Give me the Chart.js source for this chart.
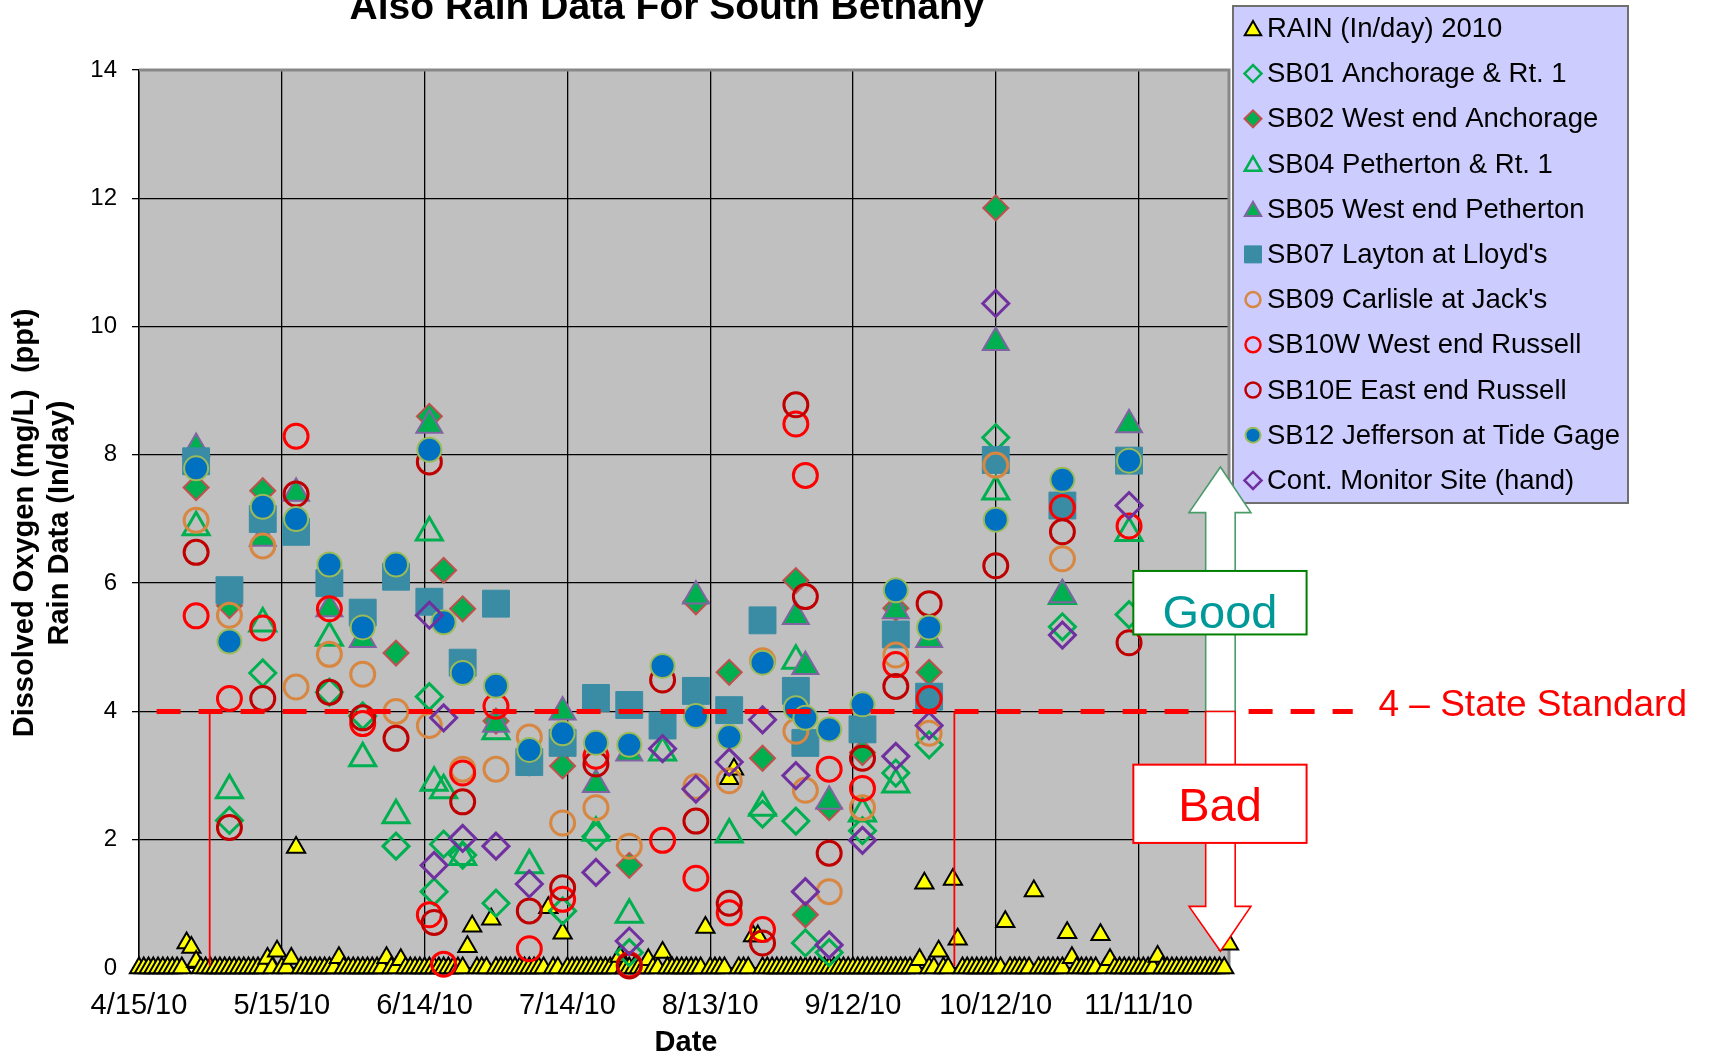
<!DOCTYPE html>
<html>
<head>
<meta charset="utf-8">
<title>Dissolved Oxygen and Rain - South Bethany 2010</title>
<script src="https://cdn.jsdelivr.net/npm/chart.js@4.4.1/dist/chart.umd.min.js"></script>
<style>
  html, body { margin: 0; padding: 0; background: #ffffff; }
  #wrap { width: 1710px; height: 1055px; }
</style>
</head>
<body>
<div id="wrap"><canvas id="do-chart" width="1710" height="1055"></canvas></div>
<script>
// x values are days counted from 4/15/10 (day 0)
const xTickDays = [0, 30, 60, 90, 120, 150, 180, 210];
const xTickLabels = ['4/15/10', '5/15/10', '6/14/10', '7/14/10', '8/13/10', '9/12/10', '10/12/10', '11/11/10'];
const yTickStep = 2;

// daily rain (in/day), day 0 .. 229
const rainDaily = [
  0, 0, 0, 0, 0, 0, 0, 0, 0, 0,
  0.39, 0.32, 0.10, 0, 0, 0, 0, 0, 0, 0,
  0, 0, 0, 0, 0, 0, 0, 0.15, 0, 0.26,
  0, 0, 0.15, 1.88, 0, 0, 0, 0, 0, 0,
  0, 0, 0.16, 0, 0, 0, 0, 0, 0, 0,
  0, 0, 0.16, 0, 0, 0.13, 0, 0, 0, 0,
  0, 0, 0, 0, 0, 0, 0, 0, 0, 0.33,
  0.65, 0, 0, 0, 0.76, 0, 0, 0, 0, 0,
  0, 0, 0, 0, 0, 0, 0.94, 0, 0, 0.54,
  0, 0, 0, 0, 0, 0, 0, 0, 0, 0,
  0, 0.18, 0, 0, 0, 0, 0, 0.13, 0, 0,
  0.24, 0, 0, 0, 0, 0, 0, 0, 0, 0.63,
  0, 0, 0, 0, 2.95, 3.1, 0, 0, 0, 0.5,
  0.5, 0, 0, 0, 0, 0, 0, 0, 0, 0,
  0, 0, 0, 0, 0, 0, 0, 0, 0, 0,
  0, 0, 0, 0, 0, 0, 0, 0, 0, 0,
  0, 0, 0, 0, 0.13, 1.32, 0, 0, 0.26, 0,
  0, 1.38, 0.45, 0, 0, 0, 0, 0, 0, 0,
  0, 0, 0.72, 0, 0, 0, 0, 0, 1.2, 0,
  0, 0, 0, 0, 0, 0.55, 0.16, 0, 0, 0,
  0, 0, 0.52, 0, 0.13, 0, 0, 0, 0, 0,
  0, 0, 0, 0, 0.18, 0, 0, 0, 0, 0,
  0, 0, 0, 0, 0, 0, 0, 0, 0, 0.37
];

// dissolved oxygen (mg/L) as [day, value]
const sb01 = [[19, 2.3], [26, 4.6], [40, 4.3], [47, 3.93], [54, 1.9], [61, 4.23], [62, 1.19], [64, 1.93],
  [68, 1.76], [75, 1.01], [89, 0.89], [96, 2.05], [103, 0.24], [131, 2.4], [138, 2.29], [140, 0.39],
  [145, 0.24], [152, 2.14], [159, 3.04], [166, 3.48], [180, 8.27], [194, 5.32], [208, 5.51]];
const sb02 = [[12, 7.49], [19, 5.65], [26, 7.44], [54, 4.91], [61, 8.6], [64, 6.2], [68, 5.6], [75, 3.85],
  [82, 3.2], [89, 3.15], [103, 1.6], [117, 5.71], [124, 4.61], [131, 3.27], [138, 6.04], [140, 0.83],
  [145, 2.5], [152, 3.36], [159, 5.61], [166, 4.61], [180, 11.85]];
const sb04 = [[12, 6.87], [19, 2.77], [26, 5.37], [40, 5.15], [47, 3.27], [54, 2.38], [61, 6.79], [62, 2.89],
  [64, 2.77], [68, 1.73], [75, 3.69], [82, 1.6], [96, 2.11], [103, 0.83], [110, 3.36], [124, 2.08],
  [131, 2.5], [138, 4.79], [152, 2.41], [159, 2.86], [180, 7.43], [194, 5.8], [208, 6.78]];
const sb05 = [[12, 8.1], [26, 6.7], [33, 7.4], [40, 5.6], [47, 5.12], [61, 8.46], [75, 3.8], [89, 3.99],
  [96, 2.86], [103, 3.35], [117, 5.8], [138, 5.48], [140, 4.7], [145, 2.6], [159, 5.57], [166, 5.12],
  [180, 9.75], [194, 5.82], [208, 8.47]];
const sb07 = [[12, 7.9], [19, 5.89], [26, 7.0], [33, 6.8], [40, 6.0], [47, 5.54], [54, 6.1], [61, 5.71],
  [68, 4.76], [75, 5.68], [82, 3.21], [89, 3.51], [96, 4.21], [103, 4.1], [110, 3.78], [117, 4.32],
  [124, 4.02], [131, 5.42], [138, 4.32], [140, 3.51], [152, 3.72], [159, 5.2], [166, 4.23], [180, 7.92],
  [194, 7.21], [208, 7.91]];
const sb09 = [[12, 6.98], [19, 5.5], [26, 6.58], [33, 4.38], [40, 4.89], [47, 4.58], [54, 4.0], [61, 3.78],
  [68, 3.1], [75, 3.1], [82, 3.6], [89, 2.26], [96, 2.5], [103, 1.9], [117, 2.83], [124, 2.92],
  [131, 4.79], [138, 3.69], [140, 2.77], [145, 1.19], [152, 2.5], [159, 4.88], [166, 3.66], [180, 7.84],
  [194, 6.38]];
const sb10w = [[12, 5.49], [19, 4.2], [26, 5.3], [33, 8.29], [40, 5.6], [47, 3.81], [61, 0.83], [64, 0.06],
  [68, 3.04], [75, 4.08], [82, 0.3], [89, 1.07], [96, 3.3], [103, 0.05], [110, 1.99], [117, 1.4],
  [124, 0.86], [131, 0.6], [138, 8.48], [140, 7.68], [145, 3.1], [152, 2.8], [159, 4.73], [166, 4.2],
  [194, 7.18], [208, 6.89]];
const sb10e = [[12, 6.48], [19, 2.19], [26, 4.2], [33, 7.39], [40, 4.3], [47, 3.9], [54, 3.58], [61, 7.89],
  [62, 0.71], [68, 2.59], [82, 0.89], [89, 1.25], [96, 3.18], [103, 0.03], [110, 4.49], [117, 2.29],
  [124, 1.01], [131, 0.39], [138, 8.78], [140, 5.79], [145, 1.79], [152, 3.27], [159, 4.39], [166, 5.68],
  [180, 6.27], [194, 6.8], [208, 5.07]];
const sb12 = [[12, 7.79], [19, 5.09], [26, 7.19], [33, 7.0], [40, 6.29], [47, 5.31], [54, 6.29], [61, 8.08],
  [64, 5.39], [68, 4.6], [75, 4.4], [82, 3.4], [89, 3.66], [96, 3.51], [103, 3.48], [110, 4.71],
  [117, 3.93], [124, 3.6], [131, 4.76], [138, 4.05], [140, 3.9], [145, 3.72], [152, 4.11], [159, 5.89],
  [166, 5.31], [180, 6.99], [194, 7.61], [208, 7.91]];
const contMonitor = [[61, 5.5], [62, 1.6], [64, 3.9], [68, 2.02], [75, 1.9], [82, 1.31], [96, 1.49], [103, 0.42],
  [110, 3.42], [117, 2.79], [124, 3.21], [131, 3.87], [138, 3.0], [140, 1.19], [145, 0.36], [152, 1.99],
  [159, 3.3], [166, 3.78], [180, 10.36], [194, 5.19], [208, 7.21]];

// state standard and the two hand-drawn markers on it
const stateStandard = 4;
const standardStartDay = 3.7;
const standardEndDay = 255;
const markerDays = [14.85, 171.3];

const FONT = '"Liberation Sans", Arial, sans-serif';
const GREEN = '#00B050';
const CLEAR = 'rgba(0,0,0,0)';

function toPoints(pairs) {
    return pairs.map(p => ({ x: p[0], y: p[1] }));
}

function series(label, pairs, style, radius, fill, stroke, width) {
    return {
        label: label,
        data: toPoints(pairs),
        pointStyle: style,
        pointRadius: radius,
        pointHoverRadius: radius,
        pointBackgroundColor: fill,
        pointBorderColor: stroke,
        pointBorderWidth: width,
        showLine: false,
        clip: false
    };
}

const datasets = [
    series('RAIN (In/day) 2010', rainDaily.map((v, i) => [i, v]), 'triangle', 10.5, '#FFFF00', '#000000', 2),
    series('SB01 Anchorage & Rt. 1', sb01, 'rectRot', 13, CLEAR, GREEN, 3),
    series('SB02 West end Anchorage', sb02, 'rectRot', 12.5, GREEN, '#C0504D', 2),
    series('SB04 Petherton & Rt. 1', sb04, 'triangle', 15, CLEAR, GREEN, 3),
    series('SB05 West end Petherton', sb05, 'triangle', 15, GREEN, '#8064A2', 2),
    series("SB07 Layton at Lloyd's", sb07, 'rect', 19, '#3A8CA4', '#3A8CA4', 1),
    series("SB09 Carlisle at Jack's", sb09, 'circle', 12, CLEAR, '#D78741', 3),
    series('SB10W West end Russell', sb10w, 'circle', 12, CLEAR, '#FF0000', 3),
    series('SB10E East end Russell', sb10e, 'circle', 12, CLEAR, '#C00000', 3),
    series('SB12 Jefferson at Tide Gage', sb12, 'circle', 12, '#0070C0', '#9BBB59', 2),
    series('Cont. Monitor Site (hand)', contMonitor, 'rectRot', 13, CLEAR, '#7030A0', 3)
];
// later series sit on top, like the original
datasets.forEach((d, i) => { d.order = datasets.length - i; });

// marker sizes used in the legend box
const legendRadius = { triangle: 9.5, rectRot: 8.5, rect: 12, circle: 7.5 };

// background of the plot area, frame, title texts, legend, arrows
const decorPlugin = {
    id: 'decor',
    beforeDraw(chart) {
        const { ctx, chartArea: a } = chart;
        ctx.save();
        ctx.fillStyle = '#C0C0C0';
        ctx.fillRect(a.left, a.top, a.right - a.left, a.bottom - a.top);
        ctx.restore();
    },
    beforeDatasetsDraw(chart) {
        const { ctx, chartArea: a } = chart;
        ctx.save();
        ctx.strokeStyle = '#888888';
        ctx.lineWidth = 3;
        ctx.beginPath();
        ctx.moveTo(a.left, a.top);
        ctx.lineTo(a.right, a.top);
        ctx.lineTo(a.right, a.bottom);
        ctx.stroke();
        ctx.restore();
    },
    afterDatasetsDraw(chart) {
        const { ctx } = chart;
        const x = chart.scales.x, y = chart.scales.y;
        ctx.save();
        // thin red markers down from the standard
        ctx.strokeStyle = '#FF0000';
        ctx.lineWidth = 1.8;
        markerDays.forEach(d => {
            ctx.beginPath();
            ctx.moveTo(x.getPixelForValue(d), y.getPixelForValue(stateStandard));
            ctx.lineTo(x.getPixelForValue(d), y.getPixelForValue(0.03));
            ctx.stroke();
        });
        // dashed state standard
        ctx.lineWidth = 5;
        ctx.setLineDash([24, 18]);
        ctx.beginPath();
        ctx.moveTo(x.getPixelForValue(standardStartDay), y.getPixelForValue(stateStandard));
        ctx.lineTo(x.getPixelForValue(standardEndDay), y.getPixelForValue(stateStandard));
        ctx.stroke();
        ctx.restore();
    },
    afterDraw(chart) {
        const { ctx } = chart;
        const x = chart.scales.x, y = chart.scales.y;
        const px = v => x.getPixelForValue(v);
        const py = v => y.getPixelForValue(v);

        ctx.save();
        ctx.fillStyle = '#000';
        ctx.textAlign = 'center';

        // title (top line is cut off by the page edge)
        ctx.font = 'bold 39px ' + FONT;
        ctx.textBaseline = 'alphabetic';
        ctx.fillText('Also Rain Data For South Bethany', 667, 19);

        // axis titles
        ctx.font = 'bold 29px ' + FONT;
        ctx.textBaseline = 'middle';
        ctx.fillText('Date', 686, 1043);
        ctx.save();
        ctx.translate(25, 523);
        ctx.rotate(-Math.PI / 2);
        ctx.fillText('Dissolved Oxygen (mg/L)  (ppt)', 0, 0);
        ctx.restore();
        ctx.save();
        ctx.translate(60, 523);
        ctx.rotate(-Math.PI / 2);
        ctx.fillText('Rain Data (In/day)', 0, 0);
        ctx.restore();

        // legend
        const lx = 1233, ly = 6, lw = 395, lh = 497;
        ctx.fillStyle = '#CCCCFF';
        ctx.fillRect(lx, ly, lw, lh);
        ctx.strokeStyle = '#6F6F6F';
        ctx.lineWidth = 2;
        ctx.strokeRect(lx, ly, lw, lh);
        ctx.font = '27.5px ' + FONT;
        ctx.textAlign = 'left';
        ctx.textBaseline = 'middle';
        chart.data.datasets.forEach((ds, i) => {
            const rowY = 28.4 + i * 45.2;
            ctx.save();
            ctx.fillStyle = ds.pointBackgroundColor;
            ctx.strokeStyle = ds.pointBorderColor;
            ctx.lineWidth = Math.min(ds.pointBorderWidth, 2.5);
            Chart.helpers.drawPoint(ctx, {
                pointStyle: ds.pointStyle,
                radius: legendRadius[ds.pointStyle],
                rotation: 0,
                borderWidth: ctx.lineWidth
            }, 1253, rowY + (ds.pointStyle === 'triangle' ? 2 : 0));
            ctx.restore();
            ctx.fillStyle = '#000';
            ctx.fillText(ds.label, 1267, rowY + 1);
        });

        // good / bad arrows
        const arrow = (baseV, headV, tipV, stroke) => {
            ctx.beginPath();
            ctx.moveTo(px(224.1), py(baseV));
            ctx.lineTo(px(224.1), py(headV));
            ctx.lineTo(px(220.6), py(headV));
            ctx.lineTo(px(227.2), py(tipV));
            ctx.lineTo(px(233.6), py(headV));
            ctx.lineTo(px(230.3), py(headV));
            ctx.lineTo(px(230.3), py(baseV));
            ctx.closePath();
            ctx.fillStyle = '#FFFFFF';
            ctx.fill();
            ctx.strokeStyle = stroke;
            ctx.lineWidth = 1.6;
            ctx.stroke();
        };
        arrow(stateStandard, 7.1, 7.81, '#4A9A6A');
        arrow(stateStandard, 0.96, 0.26, '#FF0000');

        const box = (top, bottom, baseV, stroke, text, color) => {
            const l = px(208.9), r = px(245.3), t = py(top), b = py(bottom);
            ctx.fillStyle = '#FFFFFF';
            ctx.fillRect(l, t, r - l, b - t);
            ctx.strokeStyle = stroke;
            ctx.lineWidth = 2;
            ctx.strokeRect(l, t, r - l, b - t);
            ctx.fillStyle = color;
            ctx.font = '47px ' + FONT;
            ctx.textAlign = 'center';
            ctx.textBaseline = 'alphabetic';
            ctx.fillText(text, (l + r) / 2, py(baseV));
        };
        box(6.19, 5.2, 5.30, '#008000', 'Good', '#009999');
        box(3.17, 1.95, 2.285, '#FF0000', 'Bad', '#FF0000');

        // label of the standard line
        ctx.fillStyle = '#FF0000';
        ctx.font = '37px ' + FONT;
        ctx.textAlign = 'left';
        ctx.textBaseline = 'alphabetic';
        ctx.fillText('4 \u2013 State Standard', px(260.4), py(3.93));

        ctx.restore();
    }
};

new Chart(document.getElementById('do-chart'), {
    type: 'scatter',
    data: { datasets: datasets },
    options: {
        responsive: false,
        animation: false,
        layout: { padding: { left: 0, top: 70, right: 1710 - 1229, bottom: 0 } },
        plugins: {
            legend: { display: false },
            tooltip: { enabled: false }
        },
        scales: {
            x: {
                type: 'linear',
                min: 0,
                max: 229,
                afterBuildTicks(s) {
                    s.ticks = xTickDays.map(v => ({ value: v }));
                },
                afterFit(s) {
                    s.height = 1055 - 968;
                },
                ticks: {
                    autoSkip: false,
                    maxRotation: 0,
                    padding: 21,
                    color: '#000',
                    font: { family: FONT, size: 29 },
                    callback: (v) => {
                        const i = xTickDays.indexOf(v);
                        return i >= 0 ? xTickLabels[i] : '';
                    }
                },
                grid: { color: '#000', lineWidth: 1.3, drawTicks: false },
                border: { color: '#000', width: 2 }
            },
            y: {
                min: 0,
                max: 14,
                afterFit(s) {
                    s.width = 139;
                },
                ticks: {
                    stepSize: yTickStep,
                    padding: 15,
                    color: '#000',
                    font: { family: FONT, size: 24 }
                },
                grid: { color: '#000', lineWidth: 1.3, tickLength: 7, tickColor: '#000' },
                border: { color: '#000', width: 1.5 }
            }
        }
    },
    plugins: [decorPlugin]
});
</script>
</body>
</html>
